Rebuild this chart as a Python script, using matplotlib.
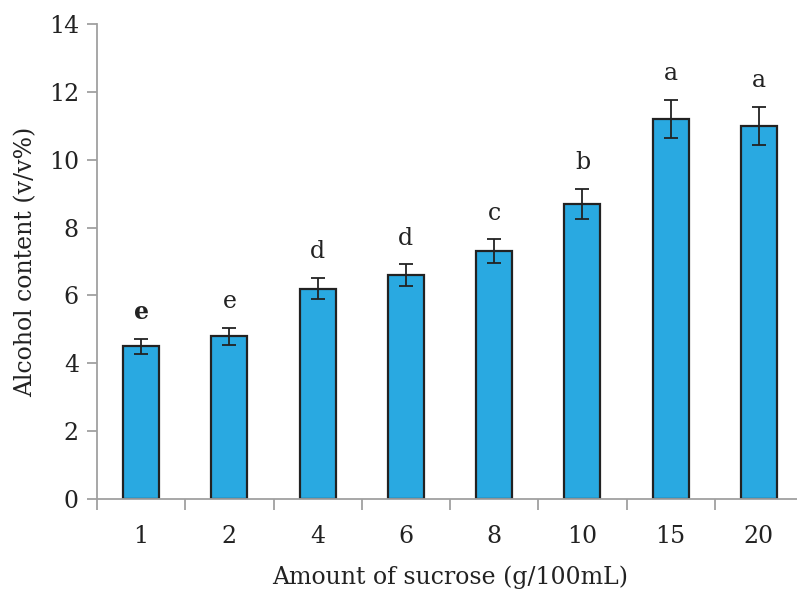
import matplotlib
matplotlib.use("Agg")
import matplotlib.pyplot as plt
import numpy as np
from matplotlib.ticker import FixedLocator

categories = ["1", "2", "4", "6", "8", "10", "15", "20"]
values = [4.5, 4.8, 6.2, 6.6, 7.3, 8.7, 11.2, 11.0]
errors = [0.22, 0.25, 0.31, 0.32, 0.35, 0.44, 0.56, 0.56]
letters = ["e", "e", "d", "d", "c", "b", "a", "a"]
bold_letters = [True, False, False, False, False, False, False, False]

plt.rcParams['font.family'] = ['DejaVu Serif']

fig = plt.figure(figsize=(7.97, 5.91), dpi=100)
ax = fig.add_axes([97/797, 1-499/591, (803-97)/797, (499-24)/591])

x = np.arange(len(categories))
ax.bar(x, values, width=0.41, color="#29A9E1", edgecolor="#222222", linewidth=1.6, zorder=2)
ax.errorbar(x, values, yerr=errors, fmt="none", ecolor="#222222", elinewidth=1.3,
            capsize=5, capthick=1.3, zorder=3)

for xi, v, e, lab, b in zip(x, values, errors, letters, bold_letters):
    ax.text(xi, v + e + 0.58, lab, ha="center", va="baseline", fontsize=17,
            fontweight="bold" if b else "normal", color="#222222")

ax.set_xlim(-0.5, len(categories) - 0.5)
ax.set_ylim(0, 14)
ax.set_yticks(np.arange(0, 15, 2))
ax.set_xticks(x)
ax.set_xticklabels(categories)
ax.xaxis.set_minor_locator(FixedLocator(np.arange(-0.5, len(categories), 1.0)))
ax.tick_params(axis="x", which="major", length=0, labelsize=17, pad=19, colors="#222222")
ax.tick_params(axis="x", which="minor", length=8, width=1.3, color="#A0A0A0", direction="out")
ax.tick_params(axis="y", which="major", length=7, width=1.3, color="#A0A0A0", labelsize=17,
               labelcolor="#222222", direction="out", pad=6)

for s in ["top", "right"]:
    ax.spines[s].set_visible(False)
for s in ["left", "bottom"]:
    ax.spines[s].set_color("#A0A0A0")
    ax.spines[s].set_linewidth(1.3)

ax.set_xlabel("Amount of sucrose (g/100mL)", fontsize=17, color="#222222", labelpad=12)
ax.set_ylabel("Alcohol content (v/v%)", fontsize=17, color="#222222", labelpad=8)

fig.savefig("out.png", dpi=100)
